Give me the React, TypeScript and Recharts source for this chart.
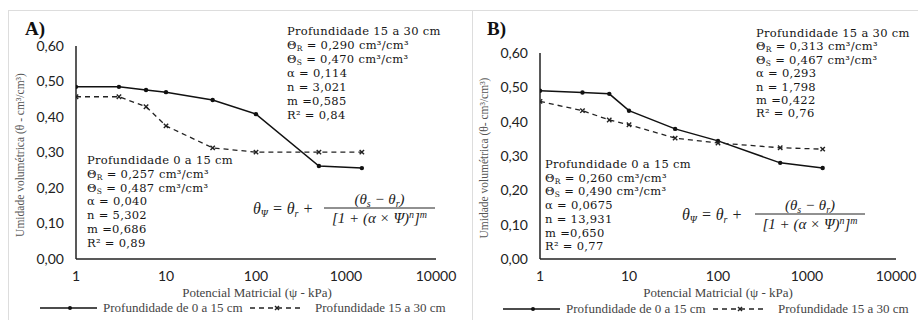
import { LineChart, Line, XAxis, YAxis } from 'recharts';

// potencial matricial (kPa)
const pressures = [1, 3, 6, 10, 33, 100, 500, 1500];

// painel A
const aTopLayer = [0.485, 0.485, 0.476, 0.47, 0.448, 0.408, 0.262, 0.256];
const aSubLayer = [0.457, 0.457, 0.429, 0.375, 0.313, 0.301, 0.301, 0.301];

// painel B
const bTopLayer = [0.49, 0.485, 0.481, 0.432, 0.379, 0.344, 0.28, 0.265];
const bSubLayer = [0.459, 0.432, 0.405, 0.391, 0.352, 0.338, 0.324, 0.32];

const xTicks = [1, 10, 100, 1000, 10000];
const yTicks = [0, 0.1, 0.2, 0.3, 0.4, 0.5, 0.6];

const aTopParams = ['Θ|R| = 0,290 cm³/cm³', 'Θ|S| = 0,470 cm³/cm³', 'α = 0,114', 'n = 3,021', 'm =0,585', 'R² =  0,84'];
const aLowParams = ['Θ|R| = 0,257 cm³/cm³', 'Θ|S| = 0,487 cm³/cm³', 'α = 0,040', 'n = 5,302', 'm =0,686', 'R² =  0,89'];
const bTopParams = ['Θ|R| = 0,313 cm³/cm³', 'Θ|S| = 0,467 cm³/cm³', 'α = 0,293', 'n = 1,798', 'm =0,422', 'R² =  0,76'];
const bLowParams = ['Θ|R| = 0,260 cm³/cm³', 'Θ|S| = 0,490 cm³/cm³', 'α = 0,0675', 'n = 13,931', 'm =0,650', 'R² =  0,77'];

const buildRows = (top: number[], sub: number[]) =>
  pressures.map((p, i) => ({ psi: p, top: top[i], sub: sub[i] }));

const SERIF = '"Liberation Serif", "Times New Roman", serif';
const ANNOT = '"DejaVu Serif", serif';
const ANNOT_SIZE = 11.5;

const SolidDot = (props: any) => {
  const { cx, cy } = props;
  if (cx == null || cy == null) return null;
  return <circle key={props.key} cx={cx} cy={cy} r={2.2} fill="#111" />;
};

const CrossDot = (props: any) => {
  const { cx, cy } = props;
  if (cx == null || cy == null) return null;
  const s = 2.2;
  return (
    <g key={props.key} stroke="#222" strokeWidth={1.4}>
      <line x1={cx - s} y1={cy - s} x2={cx + s} y2={cy + s} />
      <line x1={cx - s} y1={cy + s} x2={cx + s} y2={cy - s} />
    </g>
  );
};

const fmtY = (v: number) => v.toFixed(2).replace('.', ',');

function Panel({ rows, left, top, yWidth, right }: any) {
  return (
    <div style={{ position: 'absolute', left, top: 0 }}>
      <LineChart width={460} height={320} data={rows} margin={{ top, right, left: 0, bottom: 0 }}>
        <XAxis
          dataKey="psi"
          type="number"
          scale="log"
          domain={[1, 10000]}
          ticks={xTicks}
          allowDataOverflow
          tickLine={false}
          tickSize={10}
          tickMargin={2}
          height={61}
          stroke="#222"
          strokeWidth={1.5}
          tick={{ fontSize: 14, fill: '#222', fontFamily: 'Lato, sans-serif' }}
        />
        <YAxis
          type="number"
          domain={[0, 0.6]}
          ticks={yTicks}
          tickFormatter={fmtY}
          tickLine={false}
          tickSize={10}
          tickMargin={2}
          width={yWidth}
          stroke="#222"
          strokeWidth={1.5}
          tick={{ fontSize: 14, fill: '#222', fontFamily: 'Lato, sans-serif' }}
        />
        <Line type="linear" dataKey="top" stroke="#111" strokeWidth={1.5} dot={SolidDot} isAnimationActive={false} />
        <Line type="linear" dataKey="sub" stroke="#222" strokeWidth={1.3} strokeDasharray="5 4" dot={CrossDot} isAnimationActive={false} />
      </LineChart>
    </div>
  );
}

function ParamLine({ x, y, text }: any) {
  const parts = text.split('|');
  const common = { x, y, fontFamily: ANNOT, fontSize: ANNOT_SIZE, fill: '#151515', letterSpacing: 0.3 };
  if (parts.length === 3) {
    return (
      <text {...common}>
        {parts[0]}
        <tspan fontSize={7.5} dy={2}>{parts[1]}</tspan>
        <tspan dy={-2}>{parts[2]}</tspan>
      </text>
    );
  }
  return <text {...common}>{text}</text>;
}

function ParamBlock({ x, y, title, lines, step }: any) {
  return (
    <g>
      <text x={x} y={y} fontFamily={ANNOT} fontSize={ANNOT_SIZE} fill="#151515" letterSpacing={0.3}>
        {title}
      </text>
      {lines.map((t: string, i: number) => (
        <ParamLine key={i} x={x} y={y + step * (i + 1)} text={t} />
      ))}
    </g>
  );
}

function Formula({ x, y, barStart, barEnd }: any) {
  const mid = (barStart + barEnd) / 2;
  return (
    <g fontFamily={SERIF} fontStyle="italic" fill="#222">
      <text x={x} y={y} fontSize={16}>
        θ<tspan fontSize={10} dy={3}>Ψ</tspan>
        <tspan dy={-3}> = θ</tspan>
        <tspan fontSize={10} dy={3}>r</tspan>
        <tspan dy={-3}> +</tspan>
      </text>
      <text x={mid} y={y - 10} fontSize={15} textAnchor="middle">
        (θ<tspan fontSize={10} dy={3}>s</tspan>
        <tspan dy={-3}> − θ</tspan>
        <tspan fontSize={10} dy={3}>r</tspan>
        <tspan dy={-3}>)</tspan>
      </text>
      <line x1={barStart} x2={barEnd} y1={y - 6} y2={y - 6} stroke="#222" strokeWidth={1} />
      <text x={mid} y={y + 9} fontSize={15} textAnchor="middle">
        [1 + (α × Ψ)<tspan fontSize={10} dy={-5}>n</tspan>
        <tspan dy={5}>]</tspan>
        <tspan fontSize={10} dy={-5}>m</tspan>
      </text>
    </g>
  );
}

function LegendRow({ x, y }: any) {
  return (
    <g fontFamily={SERIF} fontSize={13} fill="#444">
      <line x1={x} x2={x + 57} y1={y} y2={y} stroke="#111" strokeWidth={1.3} />
      <circle cx={x + 30} cy={y} r={2} fill="#111" />
      <text x={x + 63} y={y + 4}>Profundidade de 0 a 15 cm</text>
      <line x1={x + 210} x2={x + 263} y1={y} y2={y} stroke="#222" strokeWidth={1.3} strokeDasharray="5 4" />
      <g stroke="#222" strokeWidth={1.4}>
        <line x1={x + 235} y1={y - 2} x2={x + 239} y2={y + 2} />
        <line x1={x + 235} y1={y + 2} x2={x + 239} y2={y - 2} />
      </g>
      <text x={x + 275} y={y + 4}>Profundidade 15 a 30 cm</text>
    </g>
  );
}

export default function App() {
  const rowsA = buildRows(aTopLayer, aSubLayer);
  const rowsB = buildRows(bTopLayer, bSubLayer);

  return (
    <div style={{ position: 'absolute', left: 0, top: 0, width: 918, height: 320, background: '#fff', overflow: 'hidden' }}>
      <Panel rows={rowsA} left={0} top={46} yWidth={76} right={24} />
      <Panel rows={rowsB} left={460} top={53} yWidth={80} right={24} />

      <svg width={918} height={320} style={{ position: 'absolute', left: 0, top: 0, pointerEvents: 'none' }}>
        {/* molduras */}
        <line x1={8} x2={918} y1={10.5} y2={10.5} stroke="#ddd" />
        <line x1={8.5} x2={8.5} y1={10} y2={320} stroke="#ddd" />
        <line x1={472.5} x2={472.5} y1={10} y2={320} stroke="#ddd" />

        <text x={25} y={35} fontFamily={SERIF} fontWeight="bold" fontSize={19} fill="#111">A)</text>
        <text x={487} y={35} fontFamily={SERIF} fontWeight="bold" fontSize={19} fill="#111">B)</text>

        <text transform="translate(24,155) rotate(-90)" textAnchor="middle" fontFamily={SERIF} fontSize={11.5} fill="#555">
          Umidade volumétrica (θ - cm³/cm³)
        </text>
        <text transform="translate(488,158) rotate(-90)" textAnchor="middle" fontFamily={SERIF} fontSize={11.5} fill="#555">
          Umidade volumétrica (θ- cm³/cm³)
        </text>

        <text x={257} y={297} textAnchor="middle" fontFamily={SERIF} fontSize={13} fill="#444">
          Potencial Matricial (ψ - kPa)
        </text>
        <text x={718} y={297} textAnchor="middle" fontFamily={SERIF} fontSize={13} fill="#444">
          Potencial Matricial (ψ - kPa)
        </text>

        <LegendRow x={40} y={308} />
        <LegendRow x={503} y={309} />

        <ParamBlock x={287} y={35} title="Profundidade 15 a 30 cm" lines={aTopParams} step={14} />
        <ParamBlock x={87} y={164} title="Profundidade 0 a 15 cm" lines={aLowParams} step={13.8} />
        <ParamBlock x={756} y={37} title="Profundidade 15 a 30 cm" lines={bTopParams} step={13.4} />
        <ParamBlock x={545} y={168} title="Profundidade 0 a 15 cm" lines={bLowParams} step={13.7} />

        <Formula x={253} y={214} barStart={324} barEnd={435} />
        <Formula x={682} y={220} barStart={755} barEnd={865} />
      </svg>
    </div>
  );
}
